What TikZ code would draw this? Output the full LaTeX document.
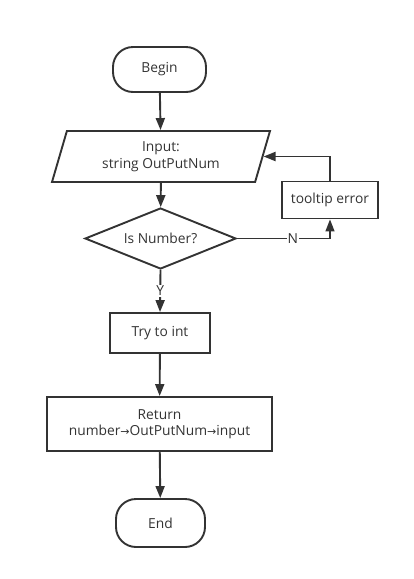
\documentclass[tikz,border=0pt]{standalone}
\usepackage{fontspec}
\setmainfont{Open Sans}
\newfontfamily\arrowfont{DejaVu Sans}
\usetikzlibrary{shapes.geometric,arrows.meta}
\definecolor{ink}{HTML}{333333}
\begin{document}
\begin{tikzpicture}[x=1pt,y=-1pt,line width=1.9pt,draw=ink,text=ink,font=\fontsize{13.8}{16.5}\selectfont,
		terminal/.style={draw,rounded corners=20pt,minimum width=93pt,minimum height=45pt},
		io/.style={draw,trapezium,trapezium left angle=72.6,trapezium right angle=107.4,trapezium stretches=true,minimum width=218pt,minimum height=51pt,align=center,inner sep=0pt},
		process/.style={draw,rectangle,align=center,inner sep=0pt},
		decision/.style={draw,diamond,aspect=2.5,inner sep=0pt,minimum width=151pt,minimum height=61pt},
		flow/.style={ink,-{Triangle[length=12pt,width=9pt]}},
		lbl/.style={fill=white,inner sep=1pt}]
	\useasboundingbox (0,0) rectangle (414,579);
	\node[terminal] (begin) at (159.5,69.5) {Begin};
	\node[io] (input) at (161,156.5) {Input:\\string OutPutNum};
	\node[decision] (isnum) at (160.5,238.5) {Is Number?};
	\node[process,minimum width=96pt,minimum height=37pt] (tooltip) at (330,200) {tooltip error};
	\node[process,minimum width=100pt,minimum height=40pt] (tryint) at (160,333) {Try to int};
	\node[process,minimum width=225pt,minimum height=54pt] (ret) at (159.5,424) {Return\\number{\arrowfont\fontsize{11}{11}\selectfont →}OutPutNum{\arrowfont\fontsize{11}{11}\selectfont →}input};
	\node[terminal,minimum width=89pt,minimum height=48pt] (end) at (160.5,523) {End};
	\draw[flow] (begin) -- (input);
	\draw[flow] (input) -- (isnum);
	\draw[flow,line width=1.5pt] (isnum.east) -| node[lbl,pos=0.3] {N} (tooltip.south);
	\draw[flow] (tooltip.north) |- (input.east);
	\draw[flow] (isnum.south) -- node[lbl] {Y} (tryint.north);
	\draw[flow] (tryint) -- (ret);
	\draw[flow] (ret) -- (end);
\end{tikzpicture}
\end{document}
